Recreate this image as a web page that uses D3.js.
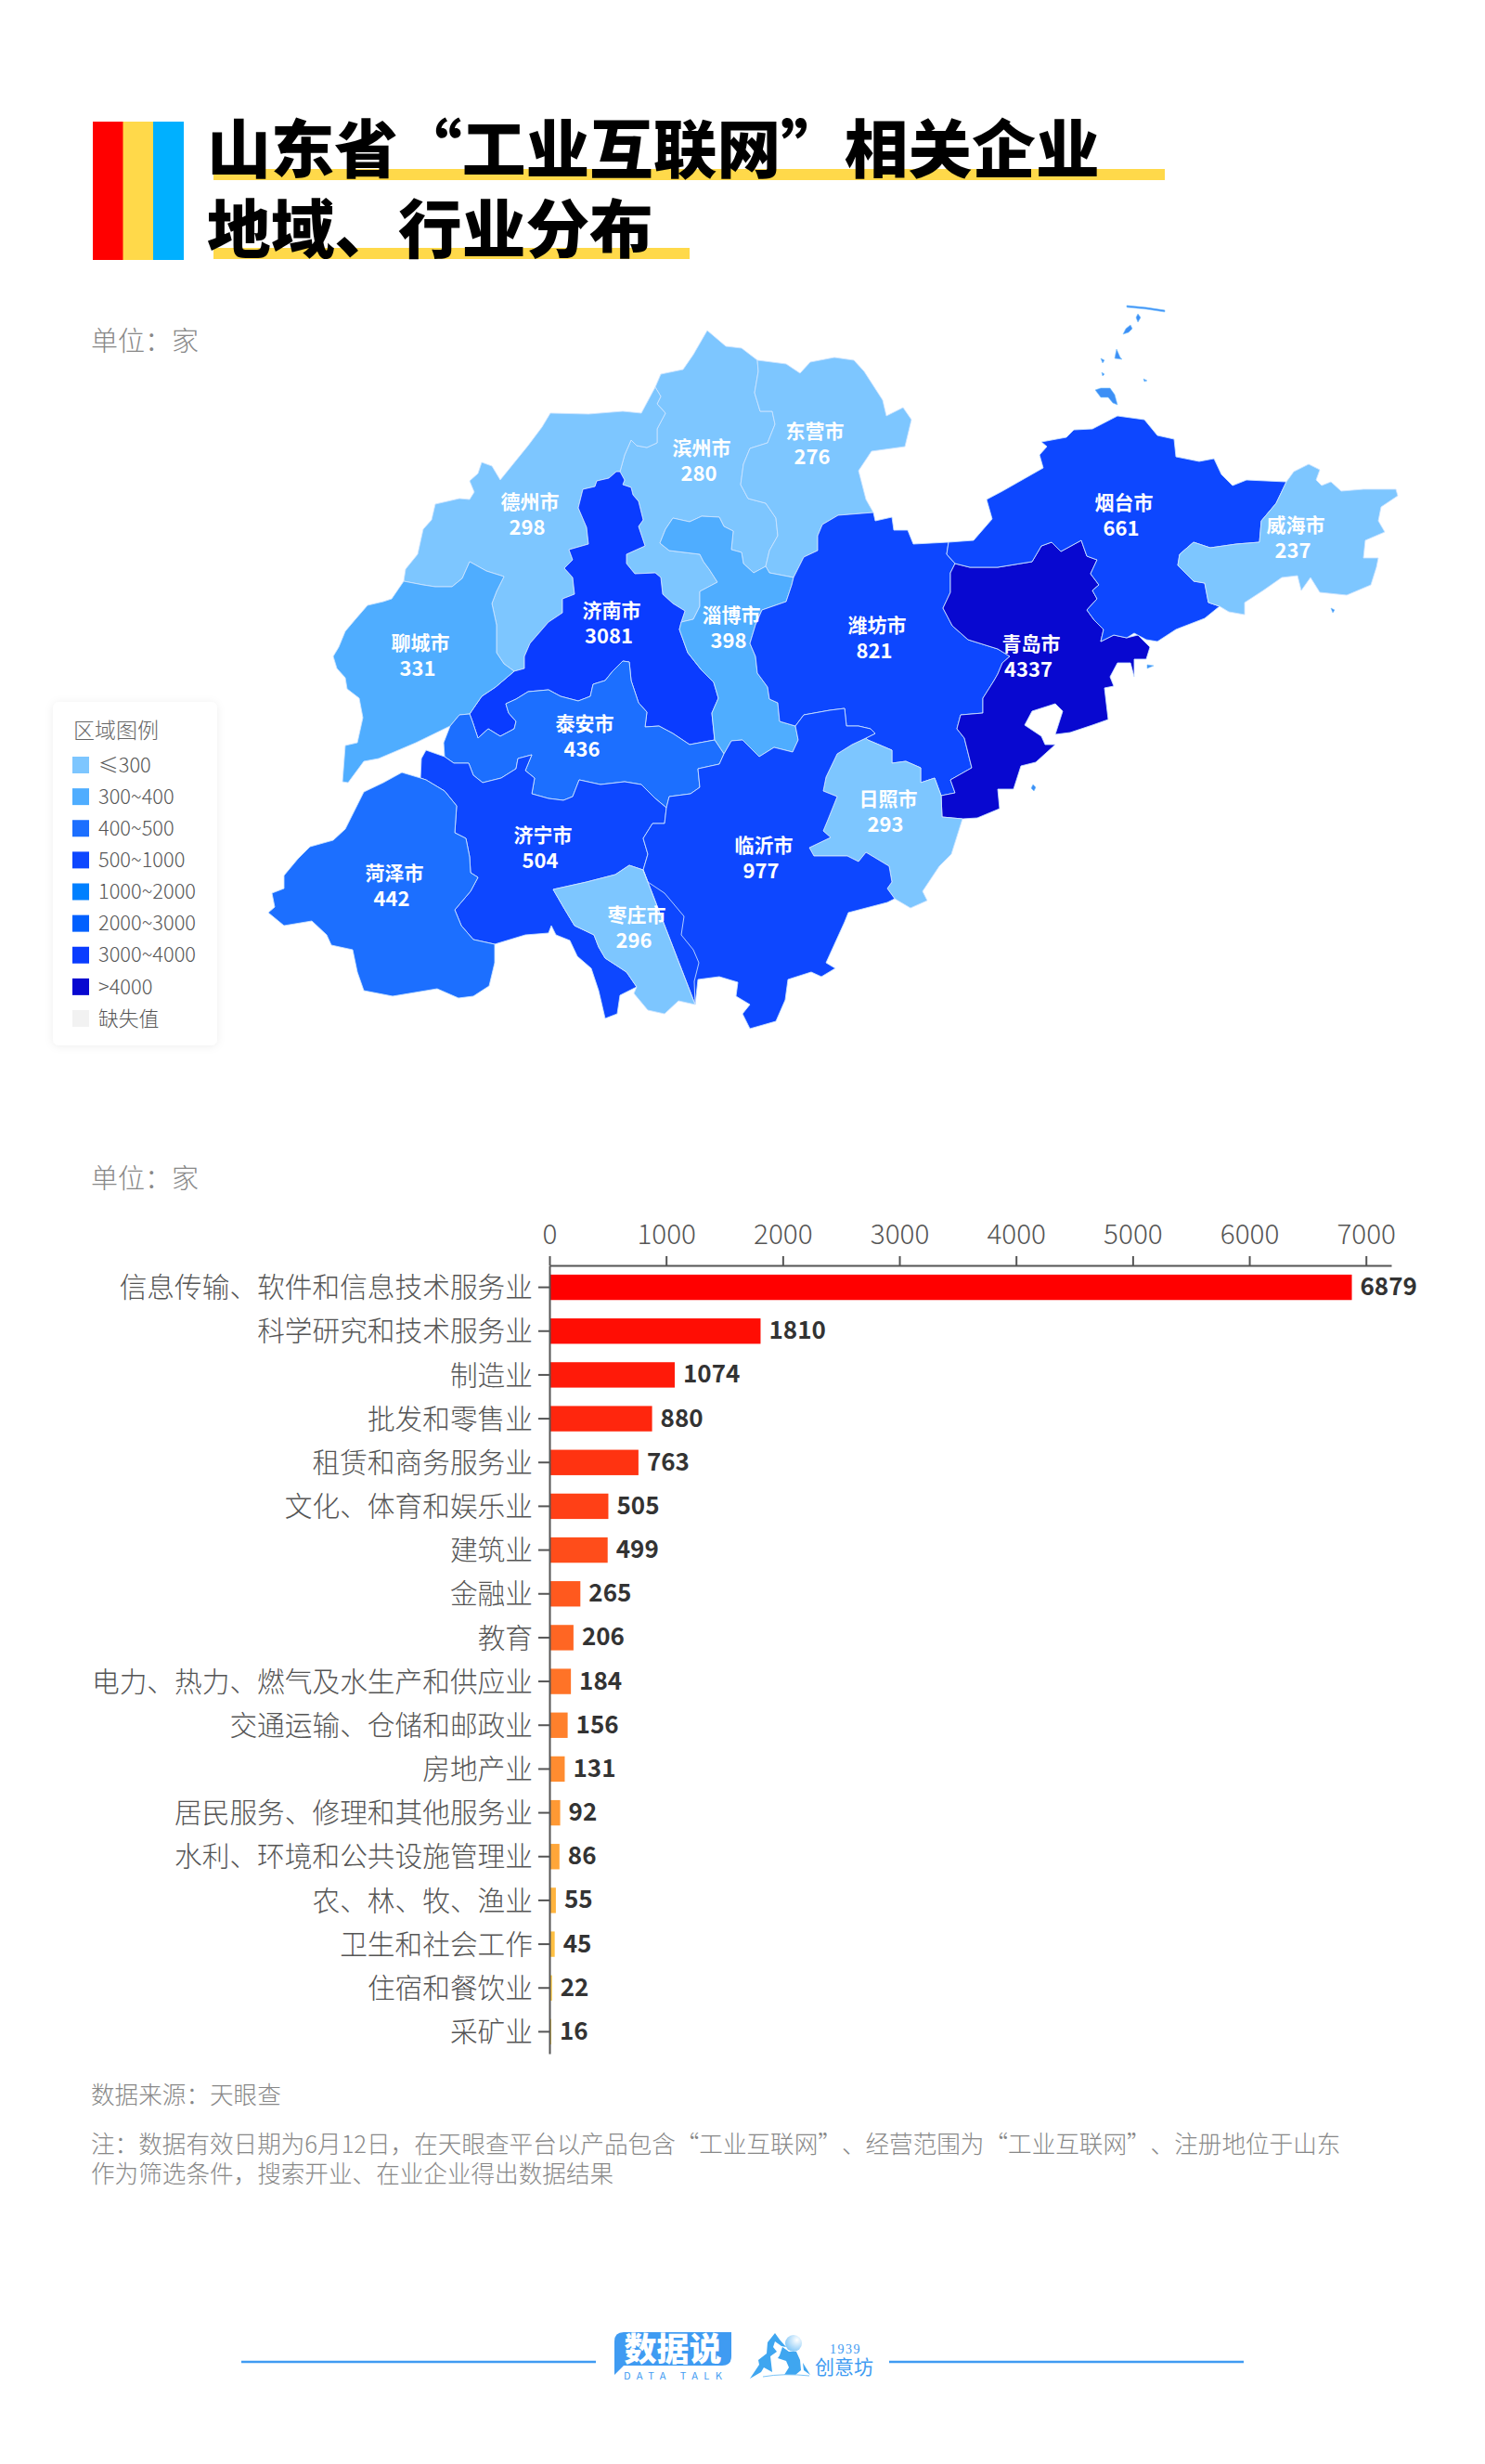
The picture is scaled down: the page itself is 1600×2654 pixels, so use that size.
<!DOCTYPE html>
<html>
<head>
<meta charset="utf-8">
<script src="https://cdnjs.cloudflare.com/ajax/libs/d3/7.8.5/d3.min.js"></script>
<style>
  html, body { margin: 0; padding: 0; background: #fff; }
  svg { display: block; }
  text { font-family: "Noto Sans CJK SC", "Noto Sans", sans-serif; text-spacing-trim: space-all; }
</style>
</head>
<body>
<div id="viz"></div>
<script>
// industry bars
const industries = ['信息传输、软件和信息技术服务业', '科学研究和技术服务业', '制造业', '批发和零售业', '租赁和商务服务业',
  '文化、体育和娱乐业', '建筑业', '金融业', '教育', '电力、热力、燃气及水生产和供应业', '交通运输、仓储和邮政业', '房地产业',
  '居民服务、修理和其他服务业', '水利、环境和公共设施管理业', '农、林、牧、渔业', '卫生和社会工作', '住宿和餐饮业', '采矿业'];
const industryValues = [6879, 1810, 1074, 880, 763, 505, 499, 265, 206, 184, 156, 131, 92, 86, 55, 45, 22, 16];
const xTicks = [0, 1000, 2000, 3000, 4000, 5000, 6000, 7000];

// cities
const cityNames = ['滨州市', '东营市', '德州市', '济南市', '淄博市', '聊城市', '泰安市', '潍坊市',
  '青岛市', '烟台市', '威海市', '日照市', '济宁市', '菏泽市', '枣庄市', '临沂市'];
const cityValues = [280, 276, 298, 3081, 398, 331, 436, 821, 4337, 661, 237, 293, 504, 442, 296, 977];

// legend
const legendLabels = ['≤300', '300~400', '400~500', '500~1000', '1000~2000', '2000~3000', '3000~4000', '>4000'];
const legendBreaks = [300, 400, 500, 1000, 2000, 3000, 4000];
const legendColors = ['#7dc6ff', '#4fadff', '#1c6fff', '#0d47ff', '#0080ff', '#0060ff', '#0a3cff', '#0808d0'];
const missingLabel = '缺失值';
const missingColor = '#f2f2f2';

// boundary arcs, in map units, shared between neighbours
const arcs = {
  coastBz: [[706,417],[712,403],[736,398],[747,382],[762,356],[782,373],[799,375],[816,388]],
  bzDy: [[816,388],[817,400],[813,423],[819,443],[832,443],[835,457],[827,477],[808,483],[801,500],[798,522],[806,537],[825,542],[836,558],[838,577],[829,593],[825,610]],
  bzZb: [[734,670],[747,667],[754,653],[754,637],[773,627],[764,613],[758,605],[754,597],[721,593],[711,585],[717,570],[725,558],[743,562],[756,556],[775,557],[780,567],[790,572],[788,592],[799,595],[801,607],[812,617],[825,610]],
  jnBz: [[668,508],[673,517],[671,522],[680,525],[682,533],[688,540],[693,560],[688,567],[695,588],[675,597],[675,607],[684,618],[706,617],[712,622],[714,640],[725,650],[738,658],[734,670]],
  dzBz: [[706,417],[712,427],[708,435],[717,445],[708,462],[708,477],[697,482],[686,480],[680,474],[673,490],[668,508]],
  coastDz: [[706,417],[691,445],[671,443],[634,446],[593,445],[584,460],[569,480],[539,517],[530,502],[519,498],[515,510],[506,518],[511,530],[506,538],[495,537],[469,543],[465,560],[456,570],[450,597],[437,613],[435,626]],
  dzLc: [[435,626],[456,630],[469,632],[487,632],[498,623],[506,605],[524,615],[543,621],[535,637],[530,650],[535,673],[535,703],[543,715],[554,723]],
  dzJn: [[554,723],[565,720],[565,707],[571,693],[591,670],[606,660],[606,645],[619,640],[617,622],[608,612],[617,603],[613,592],[634,586],[632,568],[623,547],[628,527],[641,524],[643,518],[656,515],[664,508],[668,508]],
  lcJn: [[554,723],[534,740],[519,750],[506,769]],
  jnZb: [[734,670],[732,678],[741,703],[756,722],[769,735],[774,752],[767,768],[770,797]],
  jnTa: [[770,797],[743,802],[725,790],[710,782],[695,783],[697,767],[688,757],[680,733],[678,713],[671,712],[660,723],[652,733],[639,737],[636,750],[623,755],[604,750],[591,743],[569,745],[556,753],[545,758],[548,768],[556,777],[554,785],[539,793],[526,785],[515,795],[509,777],[506,769]],
  coastLc: [[435,626],[422,645],[413,648],[396,652],[383,667],[372,680],[365,697],[359,707],[363,720],[372,730],[374,742],[387,752],[391,773],[385,800],[372,803],[369,842],[375,843],[392,820],[408,817],[448,800],[485,782]],
  lcTa: [[485,782],[495,770],[506,769]],
  coastTa: [[479,815],[478,800],[485,782]],
  zbTa: [[770,797],[780,812]],
  taLy: [[780,812],[775,823],[752,828],[754,848],[744,855],[721,858],[718,870]],
  taJg: [[718,870],[706,860],[691,845],[673,842],[647,845],[624,840],[617,858],[607,862],[591,860],[573,855],[576,838],[566,830],[573,813],[558,817],[556,828],[540,838],[520,843],[510,835],[505,822],[489,822],[479,815]],
  dyZb: [[825,610],[829,617],[855,622]],
  zbWf: [[855,622],[853,630],[847,648],[821,657],[814,673],[808,693],[814,707],[816,725],[827,740],[829,753],[838,757],[840,777],[857,782]],
  zbLy: [[857,782],[860,797],[854,810],[834,805],[818,815],[800,797],[788,798],[780,812]],
  coastDy: [[816,388],[847,392],[862,402],[873,390],[899,385],[920,388],[931,400],[951,431],[955,448],[973,439],[982,452],[975,481],[939,486],[925,507],[933,538],[941,552]],
  dyWf: [[855,622],[866,600],[881,593],[881,577],[886,565],[903,555],[941,552]],
  coastWf: [[941,552],[943,561],[961,557],[963,571],[978,571],[984,586],[1022,584]],
  wfYt: [[1022,584],[1020,597],[1029,607]],
  wfQd: [[1029,607],[1024,617],[1024,638],[1016,655],[1026,674],[1043,689],[1075,699],[1088,707],[1080,714],[1075,726],[1071,733],[1059,752],[1059,768],[1035,770],[1031,785],[1039,795],[1047,827],[1024,840],[1029,854],[1014,857]],
  wfRz: [[933,795],[935,797],[961,808],[961,822],[976,820],[992,827],[992,843],[1007,838],[1014,857]],
  wfLy: [[857,782],[866,770],[894,765],[910,763],[912,782],[925,782],[938,785],[943,790],[933,795]],
  qdYt: [[1029,607],[1045,611],[1075,611],[1112,605],[1122,588],[1133,584],[1143,594],[1165,582],[1171,599],[1182,603],[1175,618],[1184,630],[1177,636],[1182,645],[1171,657],[1179,668],[1189,678],[1186,691],[1200,684],[1214,687]],
  coastQd: [[1214,687],[1226,684],[1239,697],[1235,710],[1222,710],[1222,729],[1218,714],[1204,714],[1196,729],[1200,739],[1190,741],[1194,775],[1177,781],[1153,789],[1137,791],[1145,766],[1137,758],[1112,766],[1104,781],[1122,793],[1126,802],[1137,802],[1116,821],[1100,825],[1092,850],[1075,850],[1077,871],[1053,881],[1037,882]],
  rzQd: [[1014,857],[1015,880],[1037,882]],
  coastYt: [[1022,584],[1049,582],[1069,559],[1063,538],[1080,529],[1124,504],[1120,490],[1128,481],[1122,476],[1149,471],[1157,463],[1177,462],[1204,448],[1233,452],[1247,469],[1265,473],[1267,492],[1292,497],[1308,494],[1316,511],[1328,523],[1343,517],[1386,519]],
  ytWh: [[1386,519],[1375,542],[1359,561],[1357,584],[1332,586],[1304,590],[1286,584],[1271,597],[1269,609],[1286,626],[1298,628],[1302,649],[1314,653]],
  coastYtS: [[1314,653],[1298,666],[1267,678],[1247,691],[1235,689],[1222,682],[1214,687]],
  coastWh: [[1386,519],[1394,508],[1410,500],[1422,506],[1418,517],[1424,523],[1434,519],[1445,529],[1469,527],[1504,527],[1506,534],[1488,546],[1485,561],[1492,573],[1471,582],[1469,601],[1485,601],[1483,611],[1477,630],[1451,641],[1422,638],[1412,622],[1402,636],[1398,620],[1381,622],[1361,636],[1341,649],[1341,662],[1324,659],[1314,653]],
  rzLy: [[933,795],[918,802],[902,812],[890,837],[887,852],[902,858],[892,883],[887,895],[895,902],[872,913],[877,922],[913,922],[925,928],[933,918],[958,933],[961,950],[956,957],[964,968]],
  coastRz: [[964,968],[981,978],[999,970],[994,960],[1012,933],[1025,920],[1037,882]],
  coastLy: [[964,968],[956,972],[914,983],[910,993],[890,1037],[900,1043],[885,1052],[874,1047],[849,1055],[846,1077],[836,1100],[808,1108],[800,1092],[808,1082],[793,1073],[795,1058],[775,1052],[752,1055],[749,1082]],
  zzLy: [[749,1082],[748,1057],[753,1037],[747,1023],[734,1007],[737,987],[716,962],[698,950],[693,937]],
  lyJg: [[693,937],[698,920],[693,903],[703,887],[716,887],[718,870]],
  zzJg: [[693,937],[678,932],[663,942],[632,950],[596,958],[607,977],[619,997],[640,1007],[645,1020],[652,1032],[675,1047],[686,1063]],
  coastZz: [[686,1063],[683,1070],[698,1088],[716,1092],[731,1078],[749,1082]],
  coastJg: [[479,815],[459,808],[454,817],[453,838]],
  hzJg: [[453,838],[459,840],[479,852],[492,868],[490,897],[502,903],[506,923],[507,940],[515,945],[507,960],[490,980],[497,997],[510,1012],[533,1017]],
  coastJgS: [[533,1017],[566,1007],[591,1005],[594,997],[599,1007],[614,1013],[622,1030],[637,1043],[645,1067],[652,1097],[665,1092],[668,1072],[686,1063]],
  coastHz: [[453,838],[433,832],[413,843],[392,853],[380,877],[372,893],[359,905],[334,912],[321,925],[306,943],[306,957],[293,962],[296,977],[289,983],[306,997],[336,992],[352,1007],[357,1018],[380,1023],[385,1047],[392,1067],[423,1073],[471,1065],[494,1075],[510,1073],[527,1062],[533,1037],[533,1017]]
};

// which arcs close each city, '-' walks an arc backwards; same order as cityNames
const cityRings = [
  ['coastBz', 'bzDy', '-bzZb', '-jnBz', '-dzBz'],
  ['coastDy', '-dyWf', '-dyZb', '-bzDy'],
  ['coastDz', 'dzLc', 'dzJn', '-dzBz'],
  ['jnBz', 'jnZb', 'jnTa', '-lcJn', 'dzJn'],
  ['bzZb', 'dyZb', 'zbWf', 'zbLy', '-zbTa', '-jnZb'],
  ['coastLc', 'lcTa', '-lcJn', '-dzLc'],
  ['-jnTa', 'zbTa', 'taLy', 'taJg', 'coastTa', 'lcTa'],
  ['dyWf', 'coastWf', 'wfYt', 'wfQd', '-wfRz', '-wfLy', '-zbWf'],
  ['qdYt', 'coastQd', '-rzQd', '-wfQd'],
  ['coastYt', 'ytWh', 'coastYtS', '-qdYt', '-wfYt'],
  ['coastWh', '-ytWh'],
  ['rzLy', 'coastRz', '-rzQd', '-wfRz'],
  ['coastJg', 'hzJg', 'coastJgS', '-zzJg', 'lyJg', 'taJg'],
  ['coastHz', '-hzJg'],
  ['zzJg', 'coastZz', 'zzLy'],
  ['-zbLy', 'wfLy', 'rzLy', 'coastLy', '-zzLy', 'lyJg', '-taLy']
];
// where each city's name sits, in map units
const cityLabelAnchors = [[756,482],[878,464],[571,540],[659,657],[788,662],[453,692],[630,779],[945,673],
  [1111,693],[1211,541],[1396,565],[957,860],[585,899],[425,940],[686,985],[823,910]];

// offshore islands, each with the city it belongs to
const islandCity = ['烟台市', '烟台市', '烟台市', '烟台市', '烟台市', '烟台市', '烟台市', '烟台市', '青岛市', '青岛市', '威海市'];
const islandRings = [
  [[1214,329],[1235,331],[1255,334],[1255,336],[1235,333],[1214,331]],
  [[1226,338],[1229,342],[1226,347],[1224,342]],
  [[1218,350],[1213,354],[1210,360],[1216,358],[1220,354]],
  [[1203,376],[1207,385],[1209,387],[1201,386]],
  [[1186,386],[1190,388],[1188,391]],
  [[1187,401],[1190,403],[1188,405]],
  [[1232,408],[1236,410],[1233,411]],
  [[1180,420],[1186,418],[1196,418],[1201,425],[1204,436],[1199,434],[1194,428],[1186,428]],
  [[1113,845],[1116,848],[1114,852],[1111,849]],
  [[1236,716],[1243,717],[1236,720]],
  [[1434,655],[1438,657],[1436,660]]
];

const width = 1600;
const height = 2654;
const textDark = '#555';
const textGrey = '#888';

const svg = d3.select('#viz').append('svg')
  .attr('width', width)
  .attr('height', height)
  .attr('viewBox', `0 0 ${width} ${height}`);

svg.append('rect').attr('width', width).attr('height', height).attr('fill', '#fff');

const defs = svg.append('defs');
defs.append('filter').attr('id', 'panelShadow')
  .attr('x', '-20%').attr('y', '-20%').attr('width', '140%').attr('height', '140%')
  .append('feDropShadow')
  .attr('dx', 0).attr('dy', 1).attr('stdDeviation', 5)
  .attr('flood-color', '#000').attr('flood-opacity', 0.07);

// ---- header
const stripes = ['#ff0000', '#ffd94a', '#00b0ff'];
svg.append('g').selectAll('rect').data(stripes).join('rect')
  .attr('x', (d, i) => 100 + i * 32.5)
  .attr('y', 131)
  .attr('width', 33)
  .attr('height', 149)
  .attr('fill', d => d);

const titleLines = [
  {text: '山东省“工业互联网”相关企业', barWidth: 1025, barY: 182, textY: 186},
  {text: '地域、行业分布', barWidth: 513, barY: 267, textY: 272}
];
svg.append('g').selectAll('rect').data(titleLines).join('rect')
  .attr('x', 230).attr('y', d => d.barY)
  .attr('width', d => d.barWidth).attr('height', 12)
  .attr('fill', '#ffd94a');
svg.append('g').selectAll('text').data(titleLines).join('text')
  .attr('x', 223).attr('y', d => d.textY)
  .attr('font-size', 68.7).attr('font-weight', 900).attr('fill', '#000')
  .text(d => d.text);

function addUnit(y) {
  svg.append('text')
    .attr('x', 98).attr('y', y)
    .attr('font-size', 29).attr('font-weight', 300).attr('fill', textGrey)
    .text('单位\uFF1A家');
}
addUnit(378);
addUnit(1280);

// ---- map
const mapProjection = d3.geoIdentity().scale(1).translate([0, 0]);
const mapPath = d3.geoPath(mapProjection);
const colorScale = d3.scaleThreshold().domain(legendBreaks).range(legendColors);

function walk(name) {
  const reversed = name[0] === '-';
  const arc = arcs[reversed ? name.slice(1) : name];
  return reversed ? arc.slice().reverse() : arc;
}
function closeRing(names) {
  const ring = d3.merge(names.map(walk));
  ring.push(ring[0]);
  return ring;
}

const cityFeatures = cityNames.map((name, i) => ({
  type: 'Feature',
  properties: {name: name, value: cityValues[i], anchor: cityLabelAnchors[i]},
  geometry: {type: 'Polygon', coordinates: [closeRing(cityRings[i])]}
}));
const islandFeatures = islandRings.map((ring, i) => ({
  type: 'Feature',
  properties: {value: cityValues[cityNames.indexOf(islandCity[i])]},
  geometry: {type: 'Polygon', coordinates: [ring.concat([ring[0]])]}
}));

const mapG = svg.append('g');
mapG.selectAll('path.island').data(islandFeatures).join('path')
  .attr('class', 'island')
  .attr('d', mapPath)
  .attr('fill', '#3d8ff5')
  .attr('stroke', '#7dc6ff')
  .attr('stroke-width', 0.6);
mapG.selectAll('path.city').data(cityFeatures).join('path')
  .attr('class', 'city')
  .attr('d', mapPath)
  .attr('fill', d => colorScale(d.properties.value))
  .attr('stroke', 'rgba(205,228,255,0.85)')
  .attr('stroke-width', 1)
  .attr('stroke-linejoin', 'round');

const labelG = mapG.selectAll('g.city-label').data(cityFeatures).join('g')
  .attr('class', 'city-label')
  .attr('transform', d => `translate(${mapProjection(d.properties.anchor)})`)
  .attr('text-anchor', 'middle')
  .attr('fill', '#fff')
  .attr('font-weight', 700);
labelG.append('text')
  .attr('dy', '0.37em')
  .attr('font-size', 21)
  .text(d => d.properties.name);
labelG.append('text')
  .attr('x', -3).attr('y', 28)
  .attr('dy', '0.37em')
  .attr('font-size', 22)
  .text(d => d.properties.value);

// ---- legend
const legend = svg.append('g');
legend.append('rect')
  .attr('x', 57).attr('y', 756).attr('width', 177).attr('height', 370).attr('rx', 7)
  .attr('fill', '#fff').attr('filter', 'url(#panelShadow)');
legend.append('text')
  .attr('x', 79).attr('y', 786).attr('dy', '0.37em')
  .attr('font-size', 23).attr('font-weight', 300).attr('fill', '#666')
  .text('区域图例');

const legendItems = legendLabels.map((label, i) => ({label: label, color: legendColors[i]}))
  .concat([{label: missingLabel, color: missingColor}]);
const legendY = d3.scalePoint().domain(d3.range(legendItems.length)).range([824, 1097]);
const legendRows = legend.selectAll('g.row').data(legendItems).join('g')
  .attr('class', 'row')
  .attr('transform', (d, i) => `translate(78,${legendY(i)})`);
legendRows.append('rect')
  .attr('y', -9).attr('width', 18).attr('height', 18)
  .attr('fill', d => d.color);
legendRows.append('text')
  .attr('x', 28).attr('dy', '0.35em')
  .attr('font-size', 21.8).attr('font-weight', 300).attr('fill', textDark)
  .text(d => d.label);

// ---- bars
const x = d3.scaleLinear().domain([0, 7217]).range([592, 1499]);
const y = d3.scaleBand().domain(industries).range([1363, 2212]).paddingInner(0.42).paddingOuter(0.21);
const rankColor = d3.scaleLinear().domain([0, industries.length - 1]).range(['#ff0000', '#ffd94a']);

svg.append('g').selectAll('rect').data(industries).join('rect')
  .attr('x', x(0))
  .attr('y', d => y(d))
  .attr('width', (d, i) => x(industryValues[i]) - x(0))
  .attr('height', y.bandwidth())
  .attr('fill', (d, i) => rankColor(i));

svg.append('g').selectAll('text').data(industries).join('text')
  .attr('x', (d, i) => x(industryValues[i]) + 9)
  .attr('y', d => y(d) + y.bandwidth() / 2)
  .attr('dy', '0.33em')
  .attr('font-size', 26).attr('font-weight', 700).attr('fill', '#333')
  .text((d, i) => industryValues[i]);

const xAxis = svg.append('g')
  .attr('transform', 'translate(0,1363)')
  .call(d3.axisTop(x).tickValues(xTicks).tickSize(10).tickSizeOuter(0).tickPadding(13).tickFormat(d3.format('d')));
const yAxis = svg.append('g')
  .attr('transform', `translate(${x(0)},0)`)
  .call(d3.axisLeft(y).tickSize(12).tickSizeOuter(0).tickPadding(6));
[xAxis, yAxis].forEach(axis => {
  axis.selectAll('path, line').attr('stroke', textDark).attr('stroke-width', 2);
  axis.selectAll('text')
    .attr('font-size', 29.7).attr('font-weight', 300).attr('fill', textDark)
    .attr('font-family', '"Noto Sans CJK SC", sans-serif');
});
yAxis.selectAll('text').attr('dy', '0.36em');

// ---- notes
const notes = [
  {text: '数据来源\uFF1A天眼查', y: 2266},
  {text: '注\uFF1A数据有效日期为6月12日\uFF0C在天眼查平台以产品包含“工业互联网”、经营范围为“工业互联网”、注册地位于山东', y: 2319},
  {text: '作为筛选条件\uFF0C搜索开业、在业企业得出数据结果', y: 2351}
];
svg.append('g').selectAll('text').data(notes).join('text')
  .attr('x', 98).attr('y', d => d.y)
  .attr('font-size', 25.6).attr('font-weight', 300).attr('fill', textGrey)
  .text(d => d.text);

// ---- footer logos
const logoBlue = '#3f9bf2';
const footer = svg.append('g');
footer.selectAll('line').data([[260, 642], [958, 1340]]).join('line')
  .attr('x1', d => d[0]).attr('x2', d => d[1])
  .attr('y1', 2544).attr('y2', 2544)
  .attr('stroke', logoBlue).attr('stroke-width', 2.5);
footer.append('path')
  .attr('d', 'M672,2512H788V2538Q788,2548 778,2548H672L662,2558V2522Q662,2512 672,2512Z')
  .attr('fill', logoBlue);
footer.append('text')
  .attr('x', 725).attr('y', 2530).attr('dy', '0.36em')
  .attr('text-anchor', 'middle')
  .attr('font-size', 35).attr('font-weight', 900).attr('fill', '#fff')
  .text('数据说');
footer.append('text')
  .attr('x', 672).attr('y', 2563)
  .attr('font-size', 11).attr('letter-spacing', 6.4).attr('fill', logoBlue)
  .text('DATA TALK');
const sunGradient = defs.append('radialGradient').attr('id', 'sunFade').attr('cx', '70%').attr('cy', '30%').attr('r', '80%');
sunGradient.append('stop').attr('offset', '0%').attr('stop-color', '#ffffff');
sunGradient.append('stop').attr('offset', '100%').attr('stop-color', '#7cc4f7');
footer.append('circle').attr('cx', 855).attr('cy', 2524).attr('r', 9).attr('fill', 'url(#sunFade)');
footer.selectAll('path.peak').data([
  'M808,2562L818,2547L817,2542L826,2535L827,2523L835,2513L840,2520L847,2528L842,2527L835,2522L833,2528L837,2533L830,2538L832,2555L823,2550L820,2555Z',
  'M843,2528L850,2533L858,2533L862,2542L863,2553L857,2558L845,2558L850,2550L847,2543L838,2540L840,2537Z',
  'M865,2545L873,2558L866,2553Z'
]).join('path')
  .attr('class', 'peak')
  .attr('d', d => d)
  .attr('fill', '#3fa6f0');
footer.append('path')
  .attr('d', 'M822,2560Q845,2556 872,2559')
  .attr('fill', 'none').attr('stroke', '#7cc4f7').attr('stroke-width', 1);
footer.append('text')
  .attr('x', 878).attr('y', 2557)
  .attr('font-size', 21).attr('fill', logoBlue)
  .text('创意坊');
footer.append('text')
  .attr('x', 894).attr('y', 2535)
  .attr('font-size', 14).attr('letter-spacing', 1.5).attr('fill', logoBlue)
  .style('font-family', '"Liberation Serif", serif')
  .text('1939');
</script>
</body>
</html>
